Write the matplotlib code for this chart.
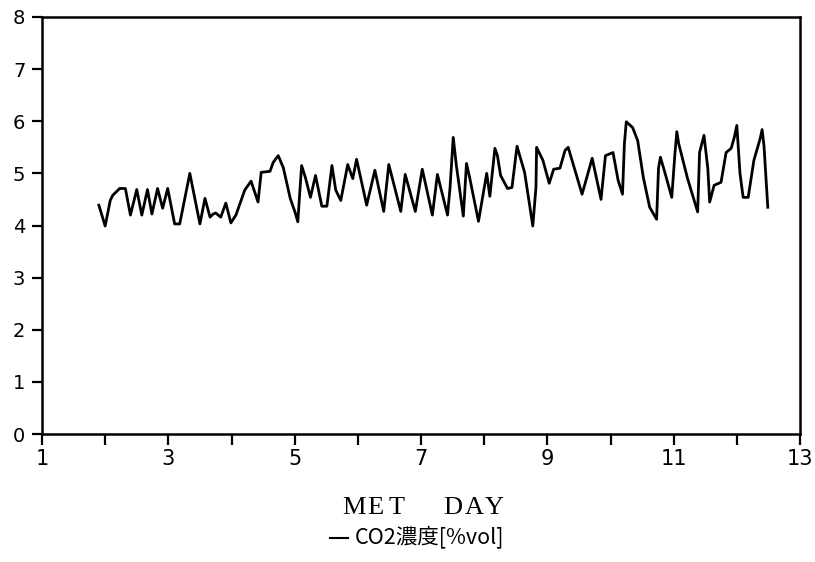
import matplotlib.pyplot as plt

# MET day vs CO2 concentration
days = [1.90, 2.00, 2.08, 2.12, 2.23, 2.32, 2.40, 2.50, 2.58, 2.67, 2.74, 2.83, 2.91, 2.99,
        3.10, 3.18, 3.34, 3.50, 3.58, 3.66, 3.71, 3.75, 3.83, 3.91, 3.99, 4.07, 4.21, 4.31,
        4.42, 4.47, 4.61, 4.66, 4.74, 4.82, 4.93, 5.01, 5.05, 5.08, 5.11, 5.17, 5.25, 5.33,
        5.43, 5.51, 5.59, 5.65, 5.73, 5.84, 5.92, 5.98, 6.14, 6.27, 6.41, 6.49, 6.68, 6.75,
        6.91, 7.02, 7.18, 7.26, 7.42, 7.46, 7.51, 7.56, 7.67, 7.72, 7.77, 7.91, 8.04, 8.09,
        8.17, 8.21, 8.26, 8.37, 8.44, 8.52, 8.64, 8.77, 8.82, 8.83, 8.93, 9.03, 9.10, 9.20,
        9.28, 9.33, 9.55, 9.71, 9.85, 9.92, 10.04, 10.12, 10.19, 10.22, 10.25, 10.35, 10.43,
        10.52, 10.62, 10.73, 10.76, 10.79, 10.86, 10.97, 11.02, 11.05, 11.08, 11.22, 11.38,
        11.41, 11.48, 11.54, 11.57, 11.64, 11.75, 11.83, 11.91, 11.96, 12.00, 12.05, 12.10,
        12.18, 12.27, 12.37, 12.40, 12.43, 12.49]
co2 = [4.39, 3.99, 4.48, 4.58, 4.71, 4.71, 4.20, 4.69, 4.20, 4.69, 4.22, 4.71, 4.33, 4.71,
       4.03, 4.03, 5.00, 4.03, 4.52, 4.16, 4.22, 4.24, 4.16, 4.43, 4.05, 4.20, 4.68, 4.85,
       4.45, 5.02, 5.04, 5.21, 5.34, 5.11, 4.52, 4.24, 4.07, 4.62, 5.15, 4.92, 4.54, 4.96,
       4.37, 4.37, 5.15, 4.68, 4.48, 5.17, 4.90, 5.27, 4.39, 5.06, 4.27, 5.17, 4.27, 4.98,
       4.27, 5.08, 4.20, 4.98, 4.20, 4.73, 5.69, 5.15, 4.18, 5.19, 4.92, 4.08, 5.00, 4.56,
       5.48, 5.34, 4.96, 4.71, 4.73, 5.52, 5.02, 3.99, 4.73, 5.50, 5.25, 4.81, 5.08, 5.10,
       5.44, 5.50, 4.60, 5.29, 4.50, 5.34, 5.40, 4.87, 4.60, 5.57, 5.99, 5.88, 5.63,
       4.92, 4.35, 4.12, 5.10, 5.31, 5.02, 4.54, 5.38, 5.80, 5.57, 4.90, 4.26,
       5.40, 5.73, 5.10, 4.45, 4.77, 4.83, 5.40, 5.48, 5.69, 5.92, 5.00, 4.54,
       4.54, 5.25, 5.67, 5.84, 5.53, 4.35]
x_ticks = list(range(1, 14))
x_labels = [str(d) if d % 2 == 1 else '' for d in x_ticks]
y_ticks = list(range(0, 9))
xlabel = 'MET DAY'
legend_label = 'CO2濃度[%vol]'

W, H = 815, 562
fig = plt.figure(figsize=(W / 100, H / 100), dpi=100)
ax = fig.add_axes([42 / W, 1 - 434 / H, 758 / W, 417 / H])
ax.plot(days, co2, color='black', linewidth=2.0)

ax.set_xlim(1, 13)
ax.set_ylim(0, 8)
ax.set_xticks(x_ticks)
ax.set_xticklabels(x_labels)
ax.set_yticks(y_ticks)
for s in ax.spines.values():
    s.set_linewidth(1.8)
ax.tick_params(axis='x', direction='out', length=8, width=1.6, pad=3, labelsize=15)
ax.tick_params(axis='y', direction='out', length=7, width=1.6, pad=5, labelsize=14)
for lab in ax.get_xticklabels() + ax.get_yticklabels():
    lab.set_family('DejaVu Sans')

# spaced typewriter-style axis title, one letter at a time
letter_x = [354, 375.5, 396.5, None, 453, 474, 494]
for ch, px in zip(xlabel, letter_x):
    if px is None:
        continue
    fig.text(px / W, 1 - 508 / H, ch, ha='center', va='center',
             family='Liberation Serif', fontsize=19)

fig.add_artist(plt.Line2D([330 / W, 348 / W], [1 - 538 / H, 1 - 538 / H],
                          color='black', linewidth=1.5))
fig.text(355 / W, 1 - 537 / H, legend_label, ha='left', va='center',
         family=['Noto Sans CJK JP', 'DejaVu Sans'], fontsize=15.5)

plt.savefig('out.png', dpi=100)
